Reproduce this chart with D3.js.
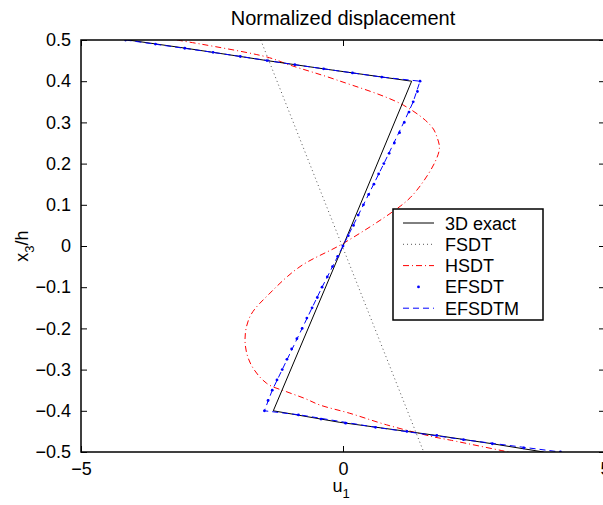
<!DOCTYPE html>
<html>
<head>
<meta charset="utf-8">
<script src="https://cdn.jsdelivr.net/npm/d3@7"></script>
<style>
  html, body { margin: 0; padding: 0; background: #fff; }
  svg { display: block; font-family: "Liberation Sans", Arial, Helvetica, sans-serif; }
</style>
</head>
<body>
<svg id="chart" width="603" height="505"></svg>
<script>
// Through-thickness coordinate (x3/h) and in-plane displacement u1 for each theory.

// 3D exact solution
const exactZ = [0.5, 0.48, 0.46, 0.45, 0.43, 0.4, 0.0, -0.4, -0.428, -0.45, -0.461, -0.48, -0.5];
const exactU = [-4.10, -3.00, -1.96, -1.45, -0.37, 1.31, 0.0, -1.33, -0.06, 1.22, 1.85, 2.85, 3.83];

// First-order shear deformation theory
const fsdtZ = [0.5, -0.5];
const fsdtU = [-1.57, 1.54];

// Higher-order shear deformation theory
const hsdtZ = [0.5, 0.459, 0.439, 0.403, 0.342, 0.29, 0.262, 0.237, 0.205, 0.156, 0.117, 0.087, 0.006,
               -0.05, -0.114, -0.17, -0.228, -0.284, -0.333, -0.354, -0.37, -0.386, -0.406, -0.434, -0.463, -0.471, -0.5];
const hsdtU = [-3.17, -1.46, -1.01, -0.12, 1.15, 1.69, 1.80, 1.84, 1.76, 1.53, 1.28, 0.99, 0.0,
               -0.82, -1.39, -1.77, -1.87, -1.77, -1.46, -1.07, -0.73, -0.44, 0.13, 0.83, 1.72, 2.04, 3.16];

// EFSDT (markers only)
const efsdtZ = [0.50, 0.49, 0.48, 0.47, 0.46, 0.45, 0.44, 0.43, 0.42, 0.41,
                0.400, 0.375, 0.350, 0.325, 0.300, 0.275, 0.250, 0.225, 0.200, 0.175, 0.150, 0.125, 0.100, 0.075, 0.050, 0.025, 0.000,
                -0.025, -0.050, -0.075, -0.100, -0.125, -0.150, -0.175, -0.200, -0.225, -0.250, -0.275, -0.300, -0.325, -0.350, -0.375, -0.400,
                -0.41, -0.42, -0.43, -0.44, -0.45, -0.46, -0.47, -0.48, -0.49, -0.50];
const efsdtU = [-4.15, -3.58, -3.02, -2.48, -1.96, -1.45, -0.92, -0.37, 0.18, 0.74,
                1.47, 1.42, 1.34, 1.26, 1.17, 1.08, 0.98, 0.88, 0.78, 0.68, 0.59, 0.49, 0.39, 0.29, 0.20, 0.10, 0.00,
                -0.10, -0.20, -0.30, -0.40, -0.49, -0.59, -0.69, -0.78, -0.88, -0.98, -1.07, -1.16, -1.26, -1.35, -1.43, -1.50,
                -0.85, -0.42, 0.05, 0.62, 1.22, 1.79, 2.30, 2.85, 3.45, 4.15];

// EFSDTM
const efsdtmZ = [0.5, 0.47, 0.44, 0.41, 0.4, 0.35, 0.3, 0.2, 0.1, 0.0, -0.1, -0.2, -0.3, -0.35, -0.4, -0.41, -0.44, -0.47, -0.5];
const efsdtmU = [-4.15, -2.48, -0.92, 0.74, 1.47, 1.34, 1.16, 0.78, 0.39, 0.0, -0.40, -0.78, -1.16, -1.35, -1.50, -0.82, 0.62, 2.30, 4.15];

const xTicks = [-5, 0, 5];
const yTicks = [-0.5, -0.4, -0.3, -0.2, -0.1, 0, 0.1, 0.2, 0.3, 0.4, 0.5];
const legendLabels = ["3D exact", "FSDT", "HSDT", "EFSDT", "EFSDTM"];

const svg = d3.select("#chart");
const boxL = 81, boxR = 605, boxT = 40, boxB = 452;

const x = d3.scaleLinear().domain([-5, 5]).range([boxL, boxR]);
const y = d3.scaleLinear().domain([-0.5, 0.5]).range([boxB, boxT]);

const fmt = v => (v < 0 ? "\u2212" : "") + String(Math.abs(v));

// clip to the axes box
svg.append("defs").append("clipPath").attr("id", "box")
  .append("rect").attr("x", boxL).attr("y", boxT).attr("width", boxR - boxL).attr("height", boxB - boxT);

const plot = svg.append("g").attr("clip-path", "url(#box)");

const pts = (zs, us) => zs.map((z, i) => [us[i], z]);
const straight = d3.line().x(d => x(d[0])).y(d => y(d[1]));
const smooth = d3.line().x(d => x(d[0])).y(d => y(d[1])).curve(d3.curveCatmullRom.alpha(0.5));

plot.append("path").datum(pts(fsdtZ, fsdtU)).attr("d", straight)
  .attr("fill", "none").attr("stroke", "#555").attr("stroke-width", 1).attr("stroke-dasharray", "1,3");

plot.append("path").datum(pts(hsdtZ, hsdtU)).attr("d", smooth)
  .attr("fill", "none").attr("stroke", "#ff0000").attr("stroke-width", 1).attr("stroke-dasharray", "6,3,1,3");

plot.append("path").datum(pts(exactZ, exactU)).attr("d", straight)
  .attr("fill", "none").attr("stroke", "#000").attr("stroke-width", 1);

plot.append("path").datum(pts(efsdtmZ, efsdtmU)).attr("d", straight)
  .attr("fill", "none").attr("stroke", "#0000ff").attr("stroke-width", 1).attr("stroke-dasharray", "6,4");

plot.selectAll("circle.efsdt").data(pts(efsdtZ, efsdtU)).join("circle")
  .attr("class", "efsdt")
  .attr("cx", d => x(d[0])).attr("cy", d => y(d[1])).attr("r", 1.4).attr("fill", "#0000ff");

// axes: ticks drawn inward on all four sides
const axBottom = d3.axisBottom(x).tickValues(xTicks).tickSize(-6).tickPadding(10).tickFormat(fmt);
const axTop = d3.axisTop(x).tickValues(xTicks).tickSize(-6).tickFormat("");
const axLeft = d3.axisLeft(y).tickValues(yTicks).tickSize(-6).tickPadding(10).tickFormat(fmt);
const axRight = d3.axisRight(y).tickValues(yTicks).tickSize(-6).tickFormat("");

function style(g) {
  g.select(".domain").remove();
  g.selectAll(".tick line").attr("stroke", "#000").attr("stroke-width", 1);
  g.selectAll(".tick text").attr("fill", "#000").attr("font-size", 18)
    .attr("font-family", "Liberation Sans, Arial, sans-serif");
}
svg.append("g").attr("transform", `translate(0,${boxB})`).call(axBottom).call(style);
svg.append("g").attr("transform", `translate(0,${boxT})`).call(axTop).call(style);
svg.append("g").attr("transform", `translate(${boxL},0)`).call(axLeft).call(style);
svg.append("g").attr("transform", `translate(${boxR},0)`).call(axRight).call(style);

svg.append("rect").attr("x", boxL).attr("y", boxT).attr("width", boxR - boxL).attr("height", boxB - boxT)
  .attr("fill", "none").attr("stroke", "#000").attr("stroke-width", 1.5);

// title and axis labels
svg.append("text").attr("x", x(0)).attr("y", 25).attr("text-anchor", "middle")
  .attr("font-size", 20).text("Normalized displacement");

const xl = svg.append("text").attr("x", x(0) - 2).attr("y", 492).attr("text-anchor", "middle").attr("font-size", 18);
xl.append("tspan").text("u");
xl.append("tspan").attr("font-size", 13).attr("dy", 6).text("1");

const yl = svg.append("text").attr("transform", `translate(28,${y(0)}) rotate(-90)`)
  .attr("text-anchor", "middle").attr("font-size", 18);
yl.append("tspan").text("x");
yl.append("tspan").attr("font-size", 13).attr("dy", 6).text("3");
yl.append("tspan").attr("dy", -6).text("/h");

// legend
const lg = svg.append("g").attr("transform", "translate(393,209)");
lg.append("rect").attr("width", 150).attr("height", 111).attr("fill", "#fff")
  .attr("stroke", "#000").attr("stroke-width", 1.5);
const styles = [
  {stroke: "#000", dash: null},
  {stroke: "#555", dash: "1,3"},
  {stroke: "#ff0000", dash: "6,3,1,3"},
  {stroke: null, dash: null},
  {stroke: "#0000ff", dash: "6,4"}
];
legendLabels.forEach((name, i) => {
  const cy = 14 + i * 21.3;
  const s = styles[i];
  if (s.stroke) {
    lg.append("line").attr("x1", 10).attr("x2", 41).attr("y1", cy).attr("y2", cy)
      .attr("stroke", s.stroke).attr("stroke-width", 1).attr("stroke-dasharray", s.dash);
  } else {
    lg.append("circle").attr("cx", 25.5).attr("cy", cy).attr("r", 1.4).attr("fill", "#0000ff");
  }
  lg.append("text").attr("x", 52).attr("y", cy + 6.5).attr("font-size", 18).text(name);
});
</script>
</body>
</html>
